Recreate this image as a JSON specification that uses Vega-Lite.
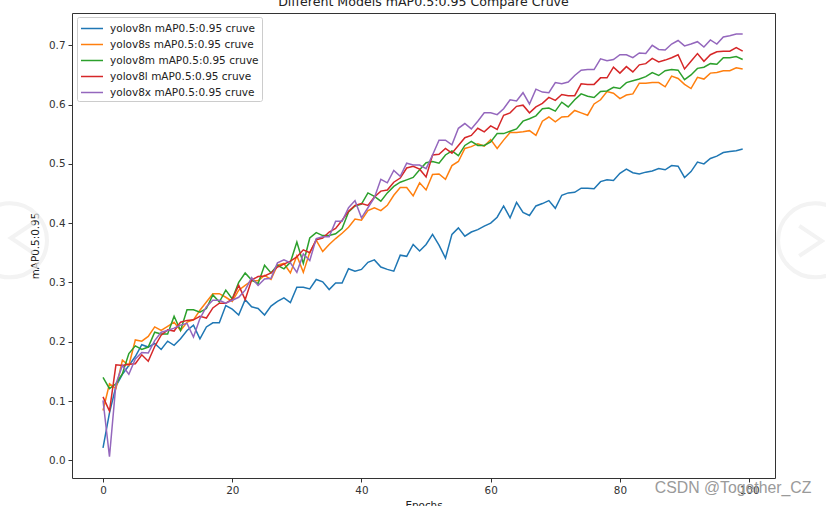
{"$schema":"https://vega.github.io/schema/vega-lite/v6.json","autosize":"none","width":703,"height":465,"padding":{"left":72,"top":13,"right":51,"bottom":28},"background":"white","title":{"text":"Different Models mAP0.5:0.95 Compare Cruve","font":"DejaVu Sans","fontSize":12.6,"fontWeight":"normal","color":"#222","anchor":"middle","offset":4},"config":{"view":{"stroke":"#333","strokeWidth":1},"font":"DejaVu Sans"},
"layer":[
{"data":{"values":[
{"e":0,"s":"yolov8n","v":0.021},{"e":1,"s":"yolov8n","v":0.08},{"e":2,"s":"yolov8n","v":0.125},{"e":3,"s":"yolov8n","v":0.145},{"e":4,"s":"yolov8n","v":0.16},{"e":5,"s":"yolov8n","v":0.175},{"e":6,"s":"yolov8n","v":0.195},{"e":7,"s":"yolov8n","v":0.191},{"e":8,"s":"yolov8n","v":0.197},{"e":9,"s":"yolov8n","v":0.187},
{"e":10,"s":"yolov8n","v":0.201},{"e":11,"s":"yolov8n","v":0.194},{"e":12,"s":"yolov8n","v":0.205},{"e":13,"s":"yolov8n","v":0.219},{"e":14,"s":"yolov8n","v":0.228},{"e":15,"s":"yolov8n","v":0.205},{"e":16,"s":"yolov8n","v":0.225},{"e":17,"s":"yolov8n","v":0.232},{"e":18,"s":"yolov8n","v":0.232},{"e":19,"s":"yolov8n","v":0.261},
{"e":20,"s":"yolov8n","v":0.255},{"e":21,"s":"yolov8n","v":0.245},{"e":22,"s":"yolov8n","v":0.271},{"e":23,"s":"yolov8n","v":0.259},{"e":24,"s":"yolov8n","v":0.256},{"e":25,"s":"yolov8n","v":0.245},{"e":26,"s":"yolov8n","v":0.26},{"e":27,"s":"yolov8n","v":0.268},{"e":28,"s":"yolov8n","v":0.274},{"e":29,"s":"yolov8n","v":0.266},
{"e":30,"s":"yolov8n","v":0.292},{"e":31,"s":"yolov8n","v":0.292},{"e":32,"s":"yolov8n","v":0.289},{"e":33,"s":"yolov8n","v":0.305},{"e":34,"s":"yolov8n","v":0.301},{"e":35,"s":"yolov8n","v":0.288},{"e":36,"s":"yolov8n","v":0.299},{"e":37,"s":"yolov8n","v":0.299},{"e":38,"s":"yolov8n","v":0.323},{"e":39,"s":"yolov8n","v":0.319},
{"e":40,"s":"yolov8n","v":0.322},{"e":41,"s":"yolov8n","v":0.334},{"e":42,"s":"yolov8n","v":0.338},{"e":43,"s":"yolov8n","v":0.326},{"e":44,"s":"yolov8n","v":0.322},{"e":45,"s":"yolov8n","v":0.319},{"e":46,"s":"yolov8n","v":0.346},{"e":47,"s":"yolov8n","v":0.344},{"e":48,"s":"yolov8n","v":0.364},{"e":49,"s":"yolov8n","v":0.353},
{"e":50,"s":"yolov8n","v":0.364},{"e":51,"s":"yolov8n","v":0.381},{"e":52,"s":"yolov8n","v":0.363},{"e":53,"s":"yolov8n","v":0.341},{"e":54,"s":"yolov8n","v":0.381},{"e":55,"s":"yolov8n","v":0.392},{"e":56,"s":"yolov8n","v":0.378},{"e":57,"s":"yolov8n","v":0.385},{"e":58,"s":"yolov8n","v":0.389},{"e":59,"s":"yolov8n","v":0.395},
{"e":60,"s":"yolov8n","v":0.4},{"e":61,"s":"yolov8n","v":0.41},{"e":62,"s":"yolov8n","v":0.429},{"e":63,"s":"yolov8n","v":0.409},{"e":64,"s":"yolov8n","v":0.435},{"e":65,"s":"yolov8n","v":0.418},{"e":66,"s":"yolov8n","v":0.413},{"e":67,"s":"yolov8n","v":0.429},{"e":68,"s":"yolov8n","v":0.433},{"e":69,"s":"yolov8n","v":0.438},
{"e":70,"s":"yolov8n","v":0.425},{"e":71,"s":"yolov8n","v":0.447},{"e":72,"s":"yolov8n","v":0.451},{"e":73,"s":"yolov8n","v":0.452},{"e":74,"s":"yolov8n","v":0.459},{"e":75,"s":"yolov8n","v":0.459},{"e":76,"s":"yolov8n","v":0.458},{"e":77,"s":"yolov8n","v":0.47},{"e":78,"s":"yolov8n","v":0.473},{"e":79,"s":"yolov8n","v":0.472},
{"e":80,"s":"yolov8n","v":0.484},{"e":81,"s":"yolov8n","v":0.491},{"e":82,"s":"yolov8n","v":0.485},{"e":83,"s":"yolov8n","v":0.483},{"e":84,"s":"yolov8n","v":0.486},{"e":85,"s":"yolov8n","v":0.488},{"e":86,"s":"yolov8n","v":0.492},{"e":87,"s":"yolov8n","v":0.49},{"e":88,"s":"yolov8n","v":0.497},{"e":89,"s":"yolov8n","v":0.496},
{"e":90,"s":"yolov8n","v":0.477},{"e":91,"s":"yolov8n","v":0.487},{"e":92,"s":"yolov8n","v":0.503},{"e":93,"s":"yolov8n","v":0.5},{"e":94,"s":"yolov8n","v":0.509},{"e":95,"s":"yolov8n","v":0.513},{"e":96,"s":"yolov8n","v":0.519},{"e":97,"s":"yolov8n","v":0.521},{"e":98,"s":"yolov8n","v":0.522},{"e":99,"s":"yolov8n","v":0.525},
{"e":0,"s":"yolov8s","v":0.084},{"e":1,"s":"yolov8s","v":0.129},{"e":2,"s":"yolov8s","v":0.121},{"e":3,"s":"yolov8s","v":0.169},{"e":4,"s":"yolov8s","v":0.16},{"e":5,"s":"yolov8s","v":0.203},{"e":6,"s":"yolov8s","v":0.201},{"e":7,"s":"yolov8s","v":0.209},{"e":8,"s":"yolov8s","v":0.225},{"e":9,"s":"yolov8s","v":0.219},
{"e":10,"s":"yolov8s","v":0.226},{"e":11,"s":"yolov8s","v":0.233},{"e":12,"s":"yolov8s","v":0.219},{"e":13,"s":"yolov8s","v":0.233},{"e":14,"s":"yolov8s","v":0.237},{"e":15,"s":"yolov8s","v":0.253},{"e":16,"s":"yolov8s","v":0.267},{"e":17,"s":"yolov8s","v":0.281},{"e":18,"s":"yolov8s","v":0.281},{"e":19,"s":"yolov8s","v":0.275},
{"e":20,"s":"yolov8s","v":0.268},{"e":21,"s":"yolov8s","v":0.287},{"e":22,"s":"yolov8s","v":0.295},{"e":23,"s":"yolov8s","v":0.303},{"e":24,"s":"yolov8s","v":0.303},{"e":25,"s":"yolov8s","v":0.312},{"e":26,"s":"yolov8s","v":0.305},{"e":27,"s":"yolov8s","v":0.329},{"e":28,"s":"yolov8s","v":0.332},{"e":29,"s":"yolov8s","v":0.316},
{"e":30,"s":"yolov8s","v":0.345},{"e":31,"s":"yolov8s","v":0.317},{"e":32,"s":"yolov8s","v":0.351},{"e":33,"s":"yolov8s","v":0.371},{"e":34,"s":"yolov8s","v":0.352},{"e":35,"s":"yolov8s","v":0.364},{"e":36,"s":"yolov8s","v":0.374},{"e":37,"s":"yolov8s","v":0.383},{"e":38,"s":"yolov8s","v":0.393},{"e":39,"s":"yolov8s","v":0.407},
{"e":40,"s":"yolov8s","v":0.405},{"e":41,"s":"yolov8s","v":0.421},{"e":42,"s":"yolov8s","v":0.426},{"e":43,"s":"yolov8s","v":0.421},{"e":44,"s":"yolov8s","v":0.43},{"e":45,"s":"yolov8s","v":0.447},{"e":46,"s":"yolov8s","v":0.46},{"e":47,"s":"yolov8s","v":0.46},{"e":48,"s":"yolov8s","v":0.446},{"e":49,"s":"yolov8s","v":0.468},
{"e":50,"s":"yolov8s","v":0.456},{"e":51,"s":"yolov8s","v":0.482},{"e":52,"s":"yolov8s","v":0.483},{"e":53,"s":"yolov8s","v":0.474},{"e":54,"s":"yolov8s","v":0.497},{"e":55,"s":"yolov8s","v":0.504},{"e":56,"s":"yolov8s","v":0.526},{"e":57,"s":"yolov8s","v":0.529},{"e":58,"s":"yolov8s","v":0.534},{"e":59,"s":"yolov8s","v":0.53},
{"e":60,"s":"yolov8s","v":0.541},{"e":61,"s":"yolov8s","v":0.526},{"e":62,"s":"yolov8s","v":0.54},{"e":63,"s":"yolov8s","v":0.553},{"e":64,"s":"yolov8s","v":0.553},{"e":65,"s":"yolov8s","v":0.554},{"e":66,"s":"yolov8s","v":0.556},{"e":67,"s":"yolov8s","v":0.548},{"e":68,"s":"yolov8s","v":0.572},{"e":69,"s":"yolov8s","v":0.579},
{"e":70,"s":"yolov8s","v":0.571},{"e":71,"s":"yolov8s","v":0.579},{"e":72,"s":"yolov8s","v":0.58},{"e":73,"s":"yolov8s","v":0.59},{"e":74,"s":"yolov8s","v":0.586},{"e":75,"s":"yolov8s","v":0.582},{"e":76,"s":"yolov8s","v":0.601},{"e":77,"s":"yolov8s","v":0.608},{"e":78,"s":"yolov8s","v":0.622},{"e":79,"s":"yolov8s","v":0.619},
{"e":80,"s":"yolov8s","v":0.61},{"e":81,"s":"yolov8s","v":0.616},{"e":82,"s":"yolov8s","v":0.618},{"e":83,"s":"yolov8s","v":0.636},{"e":84,"s":"yolov8s","v":0.636},{"e":85,"s":"yolov8s","v":0.637},{"e":86,"s":"yolov8s","v":0.637},{"e":87,"s":"yolov8s","v":0.63},{"e":88,"s":"yolov8s","v":0.648},{"e":89,"s":"yolov8s","v":0.644},
{"e":90,"s":"yolov8s","v":0.634},{"e":91,"s":"yolov8s","v":0.627},{"e":92,"s":"yolov8s","v":0.646},{"e":93,"s":"yolov8s","v":0.643},{"e":94,"s":"yolov8s","v":0.653},{"e":95,"s":"yolov8s","v":0.654},{"e":96,"s":"yolov8s","v":0.657},{"e":97,"s":"yolov8s","v":0.657},{"e":98,"s":"yolov8s","v":0.662},{"e":99,"s":"yolov8s","v":0.66},
{"e":0,"s":"yolov8m","v":0.14},{"e":1,"s":"yolov8m","v":0.121},{"e":2,"s":"yolov8m","v":0.129},{"e":3,"s":"yolov8m","v":0.146},{"e":4,"s":"yolov8m","v":0.18},{"e":5,"s":"yolov8m","v":0.193},{"e":6,"s":"yolov8m","v":0.187},{"e":7,"s":"yolov8m","v":0.191},{"e":8,"s":"yolov8m","v":0.216},{"e":9,"s":"yolov8m","v":0.213},
{"e":10,"s":"yolov8m","v":0.213},{"e":11,"s":"yolov8m","v":0.243},{"e":12,"s":"yolov8m","v":0.219},{"e":13,"s":"yolov8m","v":0.254},{"e":14,"s":"yolov8m","v":0.254},{"e":15,"s":"yolov8m","v":0.25},{"e":16,"s":"yolov8m","v":0.256},{"e":17,"s":"yolov8m","v":0.279},{"e":18,"s":"yolov8m","v":0.267},{"e":19,"s":"yolov8m","v":0.287},
{"e":20,"s":"yolov8m","v":0.272},{"e":21,"s":"yolov8m","v":0.3},{"e":22,"s":"yolov8m","v":0.316},{"e":23,"s":"yolov8m","v":0.304},{"e":24,"s":"yolov8m","v":0.298},{"e":25,"s":"yolov8m","v":0.329},{"e":26,"s":"yolov8m","v":0.316},{"e":27,"s":"yolov8m","v":0.329},{"e":28,"s":"yolov8m","v":0.323},{"e":29,"s":"yolov8m","v":0.334},
{"e":30,"s":"yolov8m","v":0.368},{"e":31,"s":"yolov8m","v":0.332},{"e":32,"s":"yolov8m","v":0.375},{"e":33,"s":"yolov8m","v":0.384},{"e":34,"s":"yolov8m","v":0.379},{"e":35,"s":"yolov8m","v":0.379},{"e":36,"s":"yolov8m","v":0.382},{"e":37,"s":"yolov8m","v":0.391},{"e":38,"s":"yolov8m","v":0.419},{"e":39,"s":"yolov8m","v":0.429},
{"e":40,"s":"yolov8m","v":0.432},{"e":41,"s":"yolov8m","v":0.451},{"e":42,"s":"yolov8m","v":0.445},{"e":43,"s":"yolov8m","v":0.437},{"e":44,"s":"yolov8m","v":0.451},{"e":45,"s":"yolov8m","v":0.462},{"e":46,"s":"yolov8m","v":0.469},{"e":47,"s":"yolov8m","v":0.473},{"e":48,"s":"yolov8m","v":0.477},{"e":49,"s":"yolov8m","v":0.49},
{"e":50,"s":"yolov8m","v":0.502},{"e":51,"s":"yolov8m","v":0.504},{"e":52,"s":"yolov8m","v":0.501},{"e":53,"s":"yolov8m","v":0.515},{"e":54,"s":"yolov8m","v":0.522},{"e":55,"s":"yolov8m","v":0.514},{"e":56,"s":"yolov8m","v":0.531},{"e":57,"s":"yolov8m","v":0.538},{"e":58,"s":"yolov8m","v":0.531},{"e":59,"s":"yolov8m","v":0.531},
{"e":60,"s":"yolov8m","v":0.537},{"e":61,"s":"yolov8m","v":0.551},{"e":62,"s":"yolov8m","v":0.551},{"e":63,"s":"yolov8m","v":0.555},{"e":64,"s":"yolov8m","v":0.559},{"e":65,"s":"yolov8m","v":0.572},{"e":66,"s":"yolov8m","v":0.576},{"e":67,"s":"yolov8m","v":0.581},{"e":68,"s":"yolov8m","v":0.593},{"e":69,"s":"yolov8m","v":0.594},
{"e":70,"s":"yolov8m","v":0.589},{"e":71,"s":"yolov8m","v":0.604},{"e":72,"s":"yolov8m","v":0.596},{"e":73,"s":"yolov8m","v":0.608},{"e":74,"s":"yolov8m","v":0.618},{"e":75,"s":"yolov8m","v":0.614},{"e":76,"s":"yolov8m","v":0.612},{"e":77,"s":"yolov8m","v":0.622},{"e":78,"s":"yolov8m","v":0.623},{"e":79,"s":"yolov8m","v":0.629},
{"e":80,"s":"yolov8m","v":0.627},{"e":81,"s":"yolov8m","v":0.637},{"e":82,"s":"yolov8m","v":0.64},{"e":83,"s":"yolov8m","v":0.643},{"e":84,"s":"yolov8m","v":0.647},{"e":85,"s":"yolov8m","v":0.654},{"e":86,"s":"yolov8m","v":0.649},{"e":87,"s":"yolov8m","v":0.657},{"e":88,"s":"yolov8m","v":0.659},{"e":89,"s":"yolov8m","v":0.658},
{"e":90,"s":"yolov8m","v":0.642},{"e":91,"s":"yolov8m","v":0.65},{"e":92,"s":"yolov8m","v":0.661},{"e":93,"s":"yolov8m","v":0.663},{"e":94,"s":"yolov8m","v":0.669},{"e":95,"s":"yolov8m","v":0.668},{"e":96,"s":"yolov8m","v":0.679},{"e":97,"s":"yolov8m","v":0.679},{"e":98,"s":"yolov8m","v":0.681},{"e":99,"s":"yolov8m","v":0.676},
{"e":0,"s":"yolov8l","v":0.107},{"e":1,"s":"yolov8l","v":0.083},{"e":2,"s":"yolov8l","v":0.161},{"e":3,"s":"yolov8l","v":0.16},{"e":4,"s":"yolov8l","v":0.162},{"e":5,"s":"yolov8l","v":0.163},{"e":6,"s":"yolov8l","v":0.178},{"e":7,"s":"yolov8l","v":0.167},{"e":8,"s":"yolov8l","v":0.192},{"e":9,"s":"yolov8l","v":0.211},
{"e":10,"s":"yolov8l","v":0.22},{"e":11,"s":"yolov8l","v":0.218},{"e":12,"s":"yolov8l","v":0.233},{"e":13,"s":"yolov8l","v":0.236},{"e":14,"s":"yolov8l","v":0.237},{"e":15,"s":"yolov8l","v":0.243},{"e":16,"s":"yolov8l","v":0.24},{"e":17,"s":"yolov8l","v":0.257},{"e":18,"s":"yolov8l","v":0.265},{"e":19,"s":"yolov8l","v":0.265},
{"e":20,"s":"yolov8l","v":0.272},{"e":21,"s":"yolov8l","v":0.295},{"e":22,"s":"yolov8l","v":0.271},{"e":23,"s":"yolov8l","v":0.304},{"e":24,"s":"yolov8l","v":0.31},{"e":25,"s":"yolov8l","v":0.311},{"e":26,"s":"yolov8l","v":0.316},{"e":27,"s":"yolov8l","v":0.326},{"e":28,"s":"yolov8l","v":0.331},{"e":29,"s":"yolov8l","v":0.336},
{"e":30,"s":"yolov8l","v":0.343},{"e":31,"s":"yolov8l","v":0.355},{"e":32,"s":"yolov8l","v":0.35},{"e":33,"s":"yolov8l","v":0.372},{"e":34,"s":"yolov8l","v":0.375},{"e":35,"s":"yolov8l","v":0.385},{"e":36,"s":"yolov8l","v":0.391},{"e":37,"s":"yolov8l","v":0.405},{"e":38,"s":"yolov8l","v":0.42},{"e":39,"s":"yolov8l","v":0.43},
{"e":40,"s":"yolov8l","v":0.433},{"e":41,"s":"yolov8l","v":0.43},{"e":42,"s":"yolov8l","v":0.444},{"e":43,"s":"yolov8l","v":0.454},{"e":44,"s":"yolov8l","v":0.456},{"e":45,"s":"yolov8l","v":0.469},{"e":46,"s":"yolov8l","v":0.476},{"e":47,"s":"yolov8l","v":0.493},{"e":48,"s":"yolov8l","v":0.496},{"e":49,"s":"yolov8l","v":0.491},
{"e":50,"s":"yolov8l","v":0.478},{"e":51,"s":"yolov8l","v":0.515},{"e":52,"s":"yolov8l","v":0.516},{"e":53,"s":"yolov8l","v":0.526},{"e":54,"s":"yolov8l","v":0.518},{"e":55,"s":"yolov8l","v":0.531},{"e":56,"s":"yolov8l","v":0.544},{"e":57,"s":"yolov8l","v":0.548},{"e":58,"s":"yolov8l","v":0.56},{"e":59,"s":"yolov8l","v":0.554},
{"e":60,"s":"yolov8l","v":0.564},{"e":61,"s":"yolov8l","v":0.558},{"e":62,"s":"yolov8l","v":0.582},{"e":63,"s":"yolov8l","v":0.586},{"e":64,"s":"yolov8l","v":0.597},{"e":65,"s":"yolov8l","v":0.599},{"e":66,"s":"yolov8l","v":0.586},{"e":67,"s":"yolov8l","v":0.596},{"e":68,"s":"yolov8l","v":0.602},{"e":69,"s":"yolov8l","v":0.612},
{"e":70,"s":"yolov8l","v":0.607},{"e":71,"s":"yolov8l","v":0.617},{"e":72,"s":"yolov8l","v":0.615},{"e":73,"s":"yolov8l","v":0.615},{"e":74,"s":"yolov8l","v":0.635},{"e":75,"s":"yolov8l","v":0.634},{"e":76,"s":"yolov8l","v":0.634},{"e":77,"s":"yolov8l","v":0.645},{"e":78,"s":"yolov8l","v":0.645},{"e":79,"s":"yolov8l","v":0.663},
{"e":80,"s":"yolov8l","v":0.653},{"e":81,"s":"yolov8l","v":0.664},{"e":82,"s":"yolov8l","v":0.655},{"e":83,"s":"yolov8l","v":0.667},{"e":84,"s":"yolov8l","v":0.669},{"e":85,"s":"yolov8l","v":0.678},{"e":86,"s":"yolov8l","v":0.672},{"e":87,"s":"yolov8l","v":0.675},{"e":88,"s":"yolov8l","v":0.679},{"e":89,"s":"yolov8l","v":0.684},
{"e":90,"s":"yolov8l","v":0.66},{"e":91,"s":"yolov8l","v":0.673},{"e":92,"s":"yolov8l","v":0.686},{"e":93,"s":"yolov8l","v":0.673},{"e":94,"s":"yolov8l","v":0.684},{"e":95,"s":"yolov8l","v":0.689},{"e":96,"s":"yolov8l","v":0.69},{"e":97,"s":"yolov8l","v":0.69},{"e":98,"s":"yolov8l","v":0.696},{"e":99,"s":"yolov8l","v":0.69},
{"e":0,"s":"yolov8x","v":0.101},{"e":1,"s":"yolov8x","v":0.006},{"e":2,"s":"yolov8x","v":0.129},{"e":3,"s":"yolov8x","v":0.16},{"e":4,"s":"yolov8x","v":0.145},{"e":5,"s":"yolov8x","v":0.171},{"e":6,"s":"yolov8x","v":0.182},{"e":7,"s":"yolov8x","v":0.181},{"e":8,"s":"yolov8x","v":0.202},{"e":9,"s":"yolov8x","v":0.216},
{"e":10,"s":"yolov8x","v":0.219},{"e":11,"s":"yolov8x","v":0.223},{"e":12,"s":"yolov8x","v":0.228},{"e":13,"s":"yolov8x","v":0.231},{"e":14,"s":"yolov8x","v":0.208},{"e":15,"s":"yolov8x","v":0.239},{"e":16,"s":"yolov8x","v":0.259},{"e":17,"s":"yolov8x","v":0.27},{"e":18,"s":"yolov8x","v":0.27},{"e":19,"s":"yolov8x","v":0.265},
{"e":20,"s":"yolov8x","v":0.27},{"e":21,"s":"yolov8x","v":0.275},{"e":22,"s":"yolov8x","v":0.287},{"e":23,"s":"yolov8x","v":0.308},{"e":24,"s":"yolov8x","v":0.295},{"e":25,"s":"yolov8x","v":0.306},{"e":26,"s":"yolov8x","v":0.307},{"e":27,"s":"yolov8x","v":0.333},{"e":28,"s":"yolov8x","v":0.338},{"e":29,"s":"yolov8x","v":0.333},
{"e":30,"s":"yolov8x","v":0.317},{"e":31,"s":"yolov8x","v":0.348},{"e":32,"s":"yolov8x","v":0.337},{"e":33,"s":"yolov8x","v":0.374},{"e":34,"s":"yolov8x","v":0.377},{"e":35,"s":"yolov8x","v":0.377},{"e":36,"s":"yolov8x","v":0.403},{"e":37,"s":"yolov8x","v":0.403},{"e":38,"s":"yolov8x","v":0.426},{"e":39,"s":"yolov8x","v":0.438},
{"e":40,"s":"yolov8x","v":0.409},{"e":41,"s":"yolov8x","v":0.426},{"e":42,"s":"yolov8x","v":0.443},{"e":43,"s":"yolov8x","v":0.474},{"e":44,"s":"yolov8x","v":0.468},{"e":45,"s":"yolov8x","v":0.489},{"e":46,"s":"yolov8x","v":0.479},{"e":47,"s":"yolov8x","v":0.501},{"e":48,"s":"yolov8x","v":0.498},{"e":49,"s":"yolov8x","v":0.498},
{"e":50,"s":"yolov8x","v":0.492},{"e":51,"s":"yolov8x","v":0.515},{"e":52,"s":"yolov8x","v":0.54},{"e":53,"s":"yolov8x","v":0.54},{"e":54,"s":"yolov8x","v":0.532},{"e":55,"s":"yolov8x","v":0.56},{"e":56,"s":"yolov8x","v":0.568},{"e":57,"s":"yolov8x","v":0.559},{"e":58,"s":"yolov8x","v":0.572},{"e":59,"s":"yolov8x","v":0.586},
{"e":60,"s":"yolov8x","v":0.586},{"e":61,"s":"yolov8x","v":0.583},{"e":62,"s":"yolov8x","v":0.593},{"e":63,"s":"yolov8x","v":0.608},{"e":64,"s":"yolov8x","v":0.606},{"e":65,"s":"yolov8x","v":0.62},{"e":66,"s":"yolov8x","v":0.601},{"e":67,"s":"yolov8x","v":0.626},{"e":68,"s":"yolov8x","v":0.621},{"e":69,"s":"yolov8x","v":0.62},
{"e":70,"s":"yolov8x","v":0.637},{"e":71,"s":"yolov8x","v":0.635},{"e":72,"s":"yolov8x","v":0.638},{"e":73,"s":"yolov8x","v":0.649},{"e":74,"s":"yolov8x","v":0.658},{"e":75,"s":"yolov8x","v":0.659},{"e":76,"s":"yolov8x","v":0.659},{"e":77,"s":"yolov8x","v":0.677},{"e":78,"s":"yolov8x","v":0.674},{"e":79,"s":"yolov8x","v":0.676},
{"e":80,"s":"yolov8x","v":0.684},{"e":81,"s":"yolov8x","v":0.684},{"e":82,"s":"yolov8x","v":0.679},{"e":83,"s":"yolov8x","v":0.687},{"e":84,"s":"yolov8x","v":0.686},{"e":85,"s":"yolov8x","v":0.7},{"e":86,"s":"yolov8x","v":0.693},{"e":87,"s":"yolov8x","v":0.692},{"e":88,"s":"yolov8x","v":0.702},{"e":89,"s":"yolov8x","v":0.708},
{"e":90,"s":"yolov8x","v":0.699},{"e":91,"s":"yolov8x","v":0.702},{"e":92,"s":"yolov8x","v":0.706},{"e":93,"s":"yolov8x","v":0.697},{"e":94,"s":"yolov8x","v":0.709},{"e":95,"s":"yolov8x","v":0.702},{"e":96,"s":"yolov8x","v":0.714},{"e":97,"s":"yolov8x","v":0.716},{"e":98,"s":"yolov8x","v":0.719},{"e":99,"s":"yolov8x","v":0.719}
]},
"mark":{"type":"line","strokeWidth":1.5,"clip":false},
"encoding":{
"x":{"field":"e","type":"quantitative","scale":{"domain":[-4.8,104],"nice":false,"zero":false},"axis":{"title":"Epochs","values":[0,20,40,60,80,100],"grid":false,"domain":false,"tickColor":"#333","tickSize":4,"labelColor":"#333","labelFont":"DejaVu Sans","labelFontSize":10.4,"labelPadding":3,"titleFont":"DejaVu Sans","titleFontSize":10.4,"titleFontWeight":"normal","titleColor":"#222","titlePadding":5}},
"y":{"field":"v","type":"quantitative","scale":{"domain":[-0.0298,0.7544],"nice":false,"zero":false},"axis":{"title":"mAP0.5:0.95","values":[0,0.1,0.2,0.3,0.4,0.5,0.6,0.7],"format":".1f","grid":false,"domain":false,"tickColor":"#333","tickSize":4,"labelColor":"#333","labelFont":"DejaVu Sans","labelFontSize":10.4,"labelPadding":3,"titleFont":"DejaVu Sans","titleFontSize":10.4,"titleFontWeight":"normal","titleColor":"#222","titlePadding":8}},
"color":{"field":"s","type":"nominal","scale":{"domain":["yolov8n","yolov8s","yolov8m","yolov8l","yolov8x"],"range":["#1f77b4","#ff7f0e","#2ca02c","#d62728","#9467bd"]},"legend":{"orient":"none","legendX":5,"legendY":4,"title":null,"labelExpr":"datum.label + ' mAP0.5:0.95 cruve'","labelFont":"DejaVu Sans","labelFontSize":10.5,"labelColor":"#222","symbolType":"M-1.47,0L1.47,0","symbolSize":225,"symbolOffset":3.5,"symbolStrokeWidth":1.5,"fillColor":"white","strokeColor":"#ccc","cornerRadius":2,"padding":3,"rowPadding":2,"labelOffset":9.5,"labelLimit":300}}
}},
{"data":{"values":[{"px":-14.4,"py":0.371,"kind":"ring"},{"px":110.2,"py":0.371,"kind":"ring"}]},"mark":{"type":"point","shape":"circle","filled":false,"stroke":"#eeeeee","strokeWidth":4,"size":5476,"clip":false,"opacity":0.7},"encoding":{"x":{"field":"px","type":"quantitative"},"y":{"field":"py","type":"quantitative"}}},
{"data":{"values":[{"px":-12.5,"py":0.375}]},"mark":{"type":"point","shape":"M0.75,-1L-0.75,0L0.75,1","filled":false,"stroke":"#eeeeee","strokeWidth":4,"size":900,"clip":false,"opacity":0.7},"encoding":{"x":{"field":"px","type":"quantitative"},"y":{"field":"py","type":"quantitative"}}},
{"data":{"values":[{"px":109.5,"py":0.37}]},"mark":{"type":"point","shape":"M-0.75,-1L0.75,0L-0.75,1","filled":false,"stroke":"#eeeeee","strokeWidth":4,"size":900,"clip":false,"opacity":0.7},"encoding":{"x":{"field":"px","type":"quantitative"},"y":{"field":"py","type":"quantitative"}}},
{"data":{"values":[{"px":85.4,"py":-0.047,"label":"CSDN @Together_CZ"}]},"mark":{"type":"text","align":"left","baseline":"middle","font":"Liberation Sans","fontSize":15.8,"color":"#9a9a9a","clip":false},"encoding":{"x":{"field":"px","type":"quantitative"},"y":{"field":"py","type":"quantitative"},"text":{"field":"label"}}}
]}
